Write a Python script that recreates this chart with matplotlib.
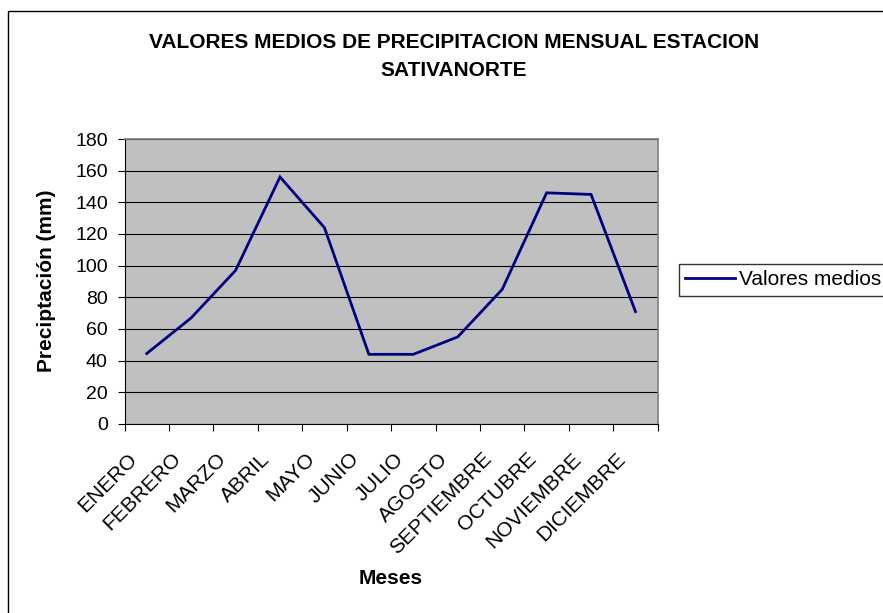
import matplotlib
matplotlib.use("Agg")
import matplotlib.pyplot as plt
from matplotlib.patches import Rectangle
from matplotlib.transforms import ScaledTranslation
import numpy as np

months = ["ENERO", "FEBRERO", "MARZO", "ABRIL", "MAYO", "JUNIO", "JULIO",
          "AGOSTO", "SEPTIEMBRE", "OCTUBRE", "NOVIEMBRE", "DICIEMBRE"]
valores = [44.5, 67, 97, 156, 124, 44, 44, 55, 85, 146, 145, 71]
yticks = [0, 20, 40, 60, 80, 100, 120, 140, 160, 180]

plt.rcParams['font.family'] = ['Liberation Sans', 'DejaVu Sans']

W, H = 883, 613
fig = plt.figure(figsize=(W / 100, H / 100), dpi=100)
fig.patch.set_facecolor('white')

# outer chart border
fig.add_artist(Rectangle((8 / W, -0.1), 1.2, 1 - 11 / H + 0.1, transform=fig.transFigure,
                         fill=False, edgecolor='black', linewidth=1.0))

l, r, t, b = 124.5, 657.7, 139, 424
ax = fig.add_axes([l / W, 1 - b / H, (r - l) / W, (b - t) / H])
ax.set_facecolor('#C0C0C0')

x = np.arange(len(months))
line, = ax.plot(x, valores, color='#000080', linewidth=2.0, label='Valores medios',
                solid_joinstyle='miter')

ax.set_xlim(-0.5, len(months) - 0.5)
ax.set_ylim(0, 180)
ax.set_yticks(yticks)
ax.yaxis.grid(True, color='black', linewidth=0.8)
ax.set_axisbelow(True)

ax.set_xticks(x)
ax.set_xticks(np.arange(len(months) + 1) - 0.5, minor=True)
ax.set_xticklabels(months, rotation=45, ha='right', va='center', rotation_mode='anchor',
                   fontsize=15)
ax.tick_params(axis='x', which='major', length=0, pad=23)
ax.tick_params(axis='x', which='minor', length=5, width=0.8, direction='out')
ax.tick_params(axis='y', length=5, width=0.8, direction='out', labelsize=14, pad=7)
off = ScaledTranslation(-13 / 100, 0, fig.dpi_scale_trans)
for lab in ax.get_xticklabels():
    lab.set_transform(lab.get_transform() + off)

for s in ['top', 'right']:
    ax.spines[s].set_color('#808080')
    ax.spines[s].set_linewidth(1.2)
for s in ['left', 'bottom']:
    ax.spines[s].set_color('black')
    ax.spines[s].set_linewidth(0.8)

fig.text(454 / W, 1 - 42 / H, "VALORES MEDIOS DE PRECIPITACION MENSUAL ESTACION",
         ha='center', va='center', fontsize=15, fontweight='bold')
fig.text(454 / W, 1 - 71 / H, "SATIVANORTE",
         ha='center', va='center', fontsize=15, fontweight='bold')

fig.text(47 / W, 1 - 281 / H, "Preciptación (mm)", rotation=90, ha='center', va='center',
         fontsize=15, fontweight='bold')
fig.text(391 / W, 1 - 578 / H, "Meses", ha='center', va='center',
         fontsize=15, fontweight='bold')

leg = fig.legend(handles=[line], loc='upper left', bbox_to_anchor=(679 / W, 1 - 264 / H),
                 frameon=True, fancybox=False, edgecolor='black', fontsize=15,
                 handlelength=2.4, handletextpad=0.2, borderpad=0.3, borderaxespad=0)
leg.get_frame().set_linewidth(1.0)

fig.savefig("out.png", dpi=100, facecolor='white')
